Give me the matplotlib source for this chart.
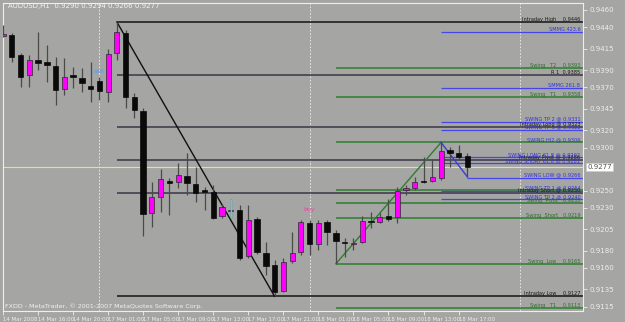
import matplotlib
matplotlib.use('Agg')
import matplotlib.pyplot as plt
import numpy as np

# AUDUSD H1 candles
opens = [0.9430, 0.9431, 0.9408, 0.9384, 0.9402, 0.9400, 0.9395, 0.9368, 0.9384, 0.9381,
         0.9372, 0.9377, 0.9365, 0.9410, 0.9433, 0.9359, 0.9343, 0.9224, 0.9243, 0.9261,
         0.9260, 0.9267, 0.9258, 0.9251, 0.9248, 0.9220, 0.9226, 0.9227, 0.9174, 0.9217,
         0.9177, 0.9163, 0.9133, 0.9168, 0.9179, 0.9212, 0.9188, 0.9213, 0.9201, 0.9190,
         0.9188, 0.9190, 0.9215, 0.9213, 0.9220, 0.9219, 0.9251, 0.9253, 0.9261, 0.9261,
         0.9265, 0.9297, 0.9294, 0.9290]
highs = [0.9443, 0.9433, 0.9410, 0.9408, 0.9434, 0.9419, 0.9405, 0.9404, 0.9394, 0.9393,
         0.9400, 0.9382, 0.9415, 0.9446, 0.9437, 0.9363, 0.9346, 0.9260, 0.9275, 0.9265,
         0.9282, 0.9294, 0.9277, 0.9254, 0.9256, 0.9234, 0.9240, 0.9233, 0.9233, 0.9219,
         0.9190, 0.9169, 0.9172, 0.9202, 0.9216, 0.9216, 0.9216, 0.9216, 0.9204, 0.9195,
         0.9195, 0.9220, 0.9225, 0.9224, 0.9240, 0.9254, 0.9256, 0.9266, 0.9289, 0.9287,
         0.9306, 0.9301, 0.9303, 0.9294]
lows = [0.9429, 0.9400, 0.9370, 0.9370, 0.9390, 0.9376, 0.9350, 0.9361, 0.9369, 0.9365,
        0.9353, 0.9355, 0.9353, 0.9402, 0.9346, 0.9334, 0.9197, 0.9208, 0.9225, 0.9222,
        0.9253, 0.9245, 0.9237, 0.9227, 0.9217, 0.9218, 0.9218, 0.9169, 0.9172, 0.9176,
        0.9152, 0.9127, 0.9132, 0.9166, 0.9175, 0.9175, 0.9181, 0.9187, 0.9165, 0.9173,
        0.9181, 0.9189, 0.9207, 0.9212, 0.9215, 0.9212, 0.9245, 0.9251, 0.9259, 0.9260,
        0.9262, 0.9277, 0.9286, 0.9266]
closes = [0.9432, 0.9405, 0.9382, 0.9402, 0.9398, 0.9396, 0.9367, 0.9382, 0.9382, 0.9375,
          0.9368, 0.9366, 0.9409, 0.9434, 0.9359, 0.9344, 0.9223, 0.9243, 0.9263, 0.9259,
          0.9268, 0.9259, 0.9247, 0.9248, 0.9218, 0.9231, 0.9227, 0.9172, 0.9216, 0.9179,
          0.9162, 0.9132, 0.9167, 0.9177, 0.9213, 0.9188, 0.9212, 0.9202, 0.9191, 0.9189,
          0.9189, 0.9215, 0.9213, 0.9219, 0.9217, 0.9250, 0.9253, 0.9260, 0.9260, 0.9266,
          0.9296, 0.9294, 0.9289, 0.9277]

time_ticks = list(range(0, 54, 4))
time_labels = ['14 Mar 2008', '14 Mar 16:00', '14 Mar 20:00', '17 Mar 01:00', '17 Mar 05:00',
               '17 Mar 09:00', '17 Mar 13:00', '17 Mar 17:00', '17 Mar 21:00', '18 Mar 01:00',
               '18 Mar 05:00', '18 Mar 09:00', '18 Mar 13:00', '18 Mar 17:00']
price_ticks = [0.9460, 0.9440, 0.9415, 0.9390, 0.9370, 0.9345, 0.9320, 0.9300,
               0.9250, 0.9230, 0.9205, 0.9180, 0.9160, 0.9135, 0.9115]
separators = [11, 35, 59]
last_price = 0.9277

# pivot levels: (price, label)
intraday_levels = [(0.9446, 'Intraday High    0.9446'), (0.9384, 'R 1  0.9385'),
                   (0.9324, 'Intraday Long @ 0.9323'), (0.9286, 'Intraday Pivot @ 0.9286'),
                   (0.9247, 'Intraday Short @ 0.9250'), (0.9127, 'Intraday Low    0.9127')]
swing_levels = [(0.9393, 'Swing   T2    0.9393'), (0.9359, 'Swing   T1    0.9358'),
                (0.9306, ''), (0.9251, ''), (0.9235, 'Swing  Pivot   0.9235'),
                (0.9218, 'Swing  Short   0.9219'), (0.9165, 'Swing  Low    0.9165'),
                (0.9113, 'Swing   T1    0.9113')]
fib_levels = [(0.9434, 'SMMG 423.6'), (0.9369, 'SMMG 261.8'), (0.9330, 'SWING TP 2 @ 0.9331'),
              (0.9321, 'SWING TP 1 @ 0.9322'), (0.9289, 'SWING LONG 61.8 @ 0.9292'),
              (0.9282, 'SWING SHORT 61.8 @ 0.9281'), (0.9250, 'SWING TP 1 @ 0.9254'),
              (0.9240, 'SWING TP 2 @ 0.9240')]
swing_low_level = (0.9265, 'SWING LOW @ 0.9266')
swing_hi_label = (0.9306, 'SWING HI2 @ 0.9306')

BG = '#a5a6a3'
fn = ['Liberation Sans Narrow', 'DejaVu Sans']

fig = plt.figure(figsize=(6.25, 3.22), dpi=100, facecolor=BG)
ax = fig.add_axes([3 / 625, 11 / 322, 580 / 625, 308 / 322], facecolor=BG)

x = np.arange(len(opens))
o = np.array(opens); h = np.array(highs); l = np.array(lows); c = np.array(closes)
x_right = 66.2

# period separators and current price line
for s in separators:
    ax.axvline(s, color='#f0f0f0', lw=0.6, ls=(0, (2, 2)), zorder=1)
ax.axhline(last_price, color='#ece08c', lw=0.8, zorder=1)

# horizontal levels
for p, lab in intraday_levels:
    col = '#151515' if 'High' in lab or 'Low' in lab else '#3b3646'
    ax.hlines(p, 13, x_right, color=col, lw=1.1, zorder=2)
    ax.text(x_right - 0.3, p, lab, ha='right', va='bottom', fontsize=3.6, color='#1a1a1a', family=fn, zorder=6)
for p, lab in swing_levels:
    ax.hlines(p, 38, x_right, color='#2f7d2f', lw=1.1, zorder=2)
    ax.text(x_right - 0.3, p, lab, ha='right', va='bottom', fontsize=3.6, color='#2a6e2a', family=fn, zorder=6)
for p, lab in fib_levels:
    ax.hlines(p, 50, x_right, color='#4646e6', lw=0.9, zorder=2)
    ax.text(x_right - 0.3, p, lab, ha='right', va='bottom', fontsize=3.6, color='#3030e0', family=fn, zorder=6)
ax.hlines(swing_low_level[0], 53, x_right, color='#4646e6', lw=0.9, zorder=2)
ax.text(x_right - 0.3, swing_low_level[0], swing_low_level[1], ha='right', va='bottom',
        fontsize=3.6, color='#3030e0', family=fn, zorder=6)
ax.text(x_right - 0.3, swing_hi_label[0], swing_hi_label[1], ha='right', va='bottom',
        fontsize=3.6, color='#3030e0', family=fn, zorder=6)

# zigzag lines
ax.plot([13, 31], [h[13], l[31]], color='#101010', lw=1.0, zorder=3)
ax.plot([38, 50], [l[38], h[50]], color='#2f7d2f', lw=1.0, zorder=3)
ax.plot([50, 53], [h[50], l[53]], color='#3a3ae0', lw=1.0, zorder=3)

# candles
ax.vlines(x, l, h, color='#4a4a4a', lw=0.9, zorder=4)
bull = c >= o
body = np.maximum(np.abs(c - o), 0.00013)
bottom = np.minimum(o, c)
ax.bar(x[bull], body[bull], bottom=bottom[bull], width=0.58, color='#ff00ff',
       edgecolor='#2a2a2a', lw=0.5, zorder=5)
ax.bar(x[~bull], body[~bull], bottom=bottom[~bull], width=0.62, color='#0a0a0a',
       edgecolor='#0a0a0a', lw=0.5, zorder=5)
ax.vlines(26, l[26], h[26], color='#40d8e8', lw=1.0, zorder=6)

ax.text(11, 0.9388, 'sell', color='#4a9cff', fontsize=4.5, ha='center', va='center', family=fn, zorder=6)
ax.text(35, 0.9228, 'buy', color='#ff3aa0', fontsize=4.5, ha='center', va='center', family=fn, zorder=6)

ax.set_xlim(0.11, x_right)
ax.set_ylim(0.9110, 0.94681)

ax.yaxis.tick_right()
ax.set_yticks(price_ticks)
ax.set_yticklabels([f'{p:.4f}' for p in price_ticks], fontsize=5, color='#e4e4e4', family=fn)
ax.set_xticks(time_ticks)
ax.set_xticklabels(time_labels, fontsize=3.9, color='#e4e4e4', family=fn, ha='left')
ax.tick_params(axis='both', colors='#eeeeee', length=3, width=0.6, pad=1.5)
for sp in ax.spines.values():
    sp.set_color('#eeeeee')
    sp.set_linewidth(0.8)

ax.annotate(f'{last_price:.4f}', xy=(1.0, last_price), xycoords=('axes fraction', 'data'),
            xytext=(3, 0), textcoords='offset points', va='center', ha='left',
            fontsize=5, color='#505050', family=fn,
            bbox=dict(boxstyle='square,pad=0.15', fc='white', ec='#cccccc', lw=0.5))

fig.text(8 / 625, 1 - 6 / 322, 'AUDUSD,H1  0.9290 0.9294 0.9266 0.9277', fontsize=5,
         color='#f4f4f4', va='center', family=fn)
fig.text(5 / 625, 1 - 306 / 322, 'FXDD - MetaTrader, \u00a9 2001-2007 MetaQuotes Software Corp.',
         fontsize=4.6, color='#f0f0f0', va='center', family=fn)

fig.savefig('out.png', dpi=100, facecolor=BG)
